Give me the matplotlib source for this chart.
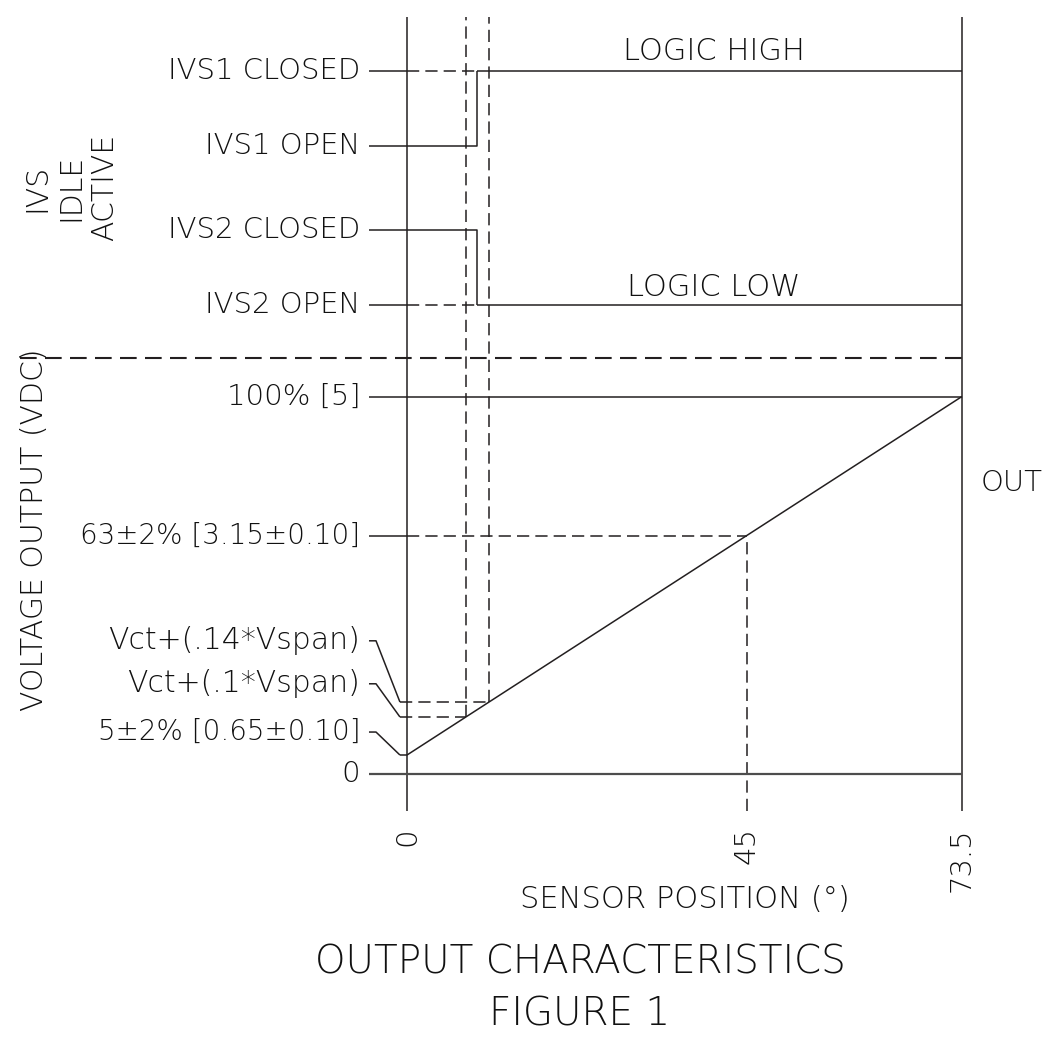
import matplotlib
matplotlib.use('Agg')
import numpy as np
import matplotlib.pyplot as plt

plt.rcParams['font.family'] = ['DejaVu Sans']
plt.rcParams['font.weight'] = 'light'

# sensor position axis (degrees)
pos_ticks = [0, 45, 73.5]
pos_labels = ['0', '45', '73.5']
idle_pos = [7.8, 10.86]      # dashed idle verticals
switch_pos = 9.27            # IVS switching point

# output curve, as drawn (VDC scale)
out_x = [0, 73.5]
out_y = [0.245, 5.0]
v_levels = [0, 3.15, 5.0]
v_labels = ['0', '63±2% [3.15±0.10]', '100% [5]']
leader_labels = ['5±2% [0.65±0.10]', 'Vct+(.1*Vspan)', 'Vct+(.14*Vspan)']
leader_text_y = [0.55, 1.19, 1.76]

# IVS section (drawn above the voltage section)
ivs_labels = ['IVS2 OPEN', 'IVS2 CLOSED', 'IVS1 OPEN', 'IVS1 CLOSED']
ivs_levels = [6.21, 7.21, 8.32, 9.32]
sep_level = 5.515
top_level = 10.03
bottom_level = -0.5

ink = '#231f20'
txt = '#111111'
lw = 1.1
dash = (0, (8, 4))

fig = plt.figure(figsize=(10.48, 10.46), dpi=100)
ax = fig.add_axes([0, 0, 1, 1])
ax.set_xlim(-53.9, 84.9)
ax.set_ylim(-3.614, 10.259)
ax.axis('off')

def line(xs, ys, dashed=False, **kw):
    kw.setdefault('color', ink)
    kw.setdefault('lw', lw)
    if dashed:
        kw['linestyle'] = dash
    ax.plot(xs, ys, solid_capstyle='butt', dash_capstyle='butt', **kw)

def label(x, y, s, size=21, **kw):
    kw.setdefault('ha', 'right')
    kw.setdefault('va', 'center')
    ax.text(x, y, s, fontsize=size, color=txt, **kw)

lab_x0 = -5.03   # left end of label lines
text_x = -6.2

# main verticals
line([0, 0], [bottom_level, top_level])
line([73.5, 73.5], [bottom_level, top_level])
line([45, 45], [bottom_level, v_levels[1]], dashed=True)

# separator
line([-51.25, 73.5], [sep_level, sep_level], dashed=True, lw=1.5)

# output curve
line(out_x, out_y)

# voltage level lines
line([lab_x0, 73.5], [0, 0], color='#4d4d4d', lw=1.6)
line([lab_x0, 73.5], [5.0, 5.0])
line([lab_x0, 0], [3.15, 3.15])
line([0, 45], [3.15, 3.15], dashed=True)
for v, lab in zip(v_levels, v_labels):
    label(text_x, v, lab, size=20 if '±' in lab else 21)

# idle verticals and leaders
idle_y = np.interp(idle_pos, out_x, out_y)
for xp, yp in zip(idle_pos, idle_y):
    line([xp, xp], [yp, top_level], dashed=True)
    line([-0.93, xp], [yp, yp], dashed=True)

targets = [out_y[0], idle_y[0], idle_y[1]]
for ty, tgt, lab in zip(leader_text_y, targets, leader_labels):
    line([lab_x0, -4.1, -0.93], [ty, ty, tgt])
    label(text_x, ty, lab, size=20 if '±' in lab else 21.5)
line([-0.93, 0], [out_y[0], out_y[0]])

# IVS lines
for lvl, lab in zip(ivs_levels, ivs_labels):
    line([lab_x0, 0], [lvl, lvl])
    label(text_x, lvl, lab)
# IVS1 : high
line([0, switch_pos], [ivs_levels[3]] * 2, dashed=True)
line([switch_pos, 73.5], [ivs_levels[3]] * 2)
line([0, switch_pos, switch_pos], [ivs_levels[2], ivs_levels[2], ivs_levels[3]])
# IVS2 : low
line([0, switch_pos], [ivs_levels[0]] * 2, dashed=True)
line([switch_pos, 73.5], [ivs_levels[0]] * 2)
line([0, switch_pos, switch_pos], [ivs_levels[1], ivs_levels[1], ivs_levels[0]])

label(40.6, 9.57, 'LOGIC HIGH', size=22, ha='center')
label(40.6, 6.45, 'LOGIC LOW', size=22, ha='center')

# tick labels
for p, lab in zip(pos_ticks, pos_labels):
    label(p, -0.71, lab, rotation=90, ha='center', va='top')

label(80.1, 3.85, 'OUT', ha='center')
label(-49.3, 3.23, 'VOLTAGE OUTPUT (VDC)', size=21.5, rotation=90, ha='center')
label(-44.5, 7.77, 'IVS\nIDLE\nACTIVE', size=21.5, rotation=90, ha='center',
      multialignment='center', linespacing=1.2)

fig.text(685 / 1048, 1 - 900 / 1046, 'SENSOR POSITION (°)', ha='center', va='center',
         fontsize=22, color=txt)
fig.text(580 / 1048, 1 - 963 / 1046, 'OUTPUT CHARACTERISTICS', ha='center', va='center',
         fontsize=28, color=txt)
fig.text(580 / 1048, 1 - 1015 / 1046, 'FIGURE 1', ha='center', va='center',
         fontsize=28, color=txt)

fig.savefig('out.png', dpi=100)
